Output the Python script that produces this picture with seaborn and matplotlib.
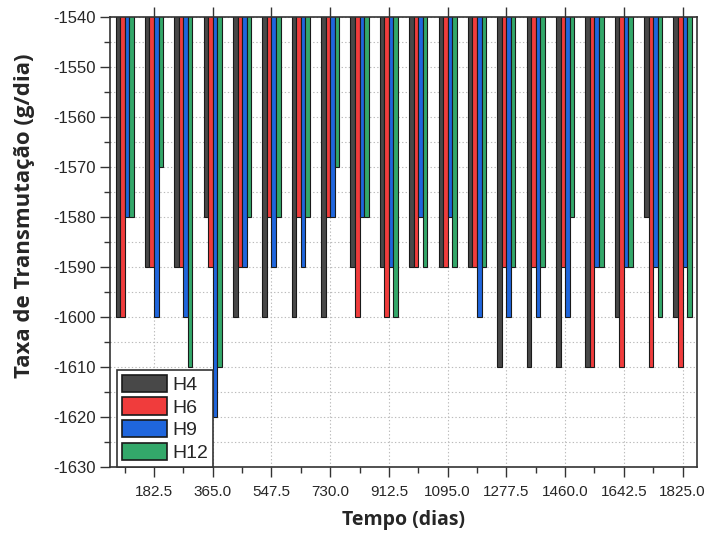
import pandas as pd
import seaborn as sns
import matplotlib
matplotlib.use("Agg")
import matplotlib.pyplot as plt
from matplotlib.ticker import MultipleLocator

# Tempo (dias) - one group every 91.25 days
dias = ["91.25", "182.5", "273.75", "365.0", "456.25", "547.5", "638.75", "730.0",
        "821.25", "912.5", "1003.75", "1095.0", "1186.25", "1277.5", "1368.75",
        "1460.0", "1551.25", "1642.5", "1733.75", "1825.0"]

# Taxa de transmutacao (g/dia) per series
h4 = [-1600, -1590, -1590, -1580, -1600, -1600, -1600, -1600, -1590, -1590,
      -1590, -1590, -1590, -1610, -1610, -1610, -1610, -1600, -1580, -1600]
h6 = [-1600, -1590, -1590, -1590, -1590, -1580, -1580, -1580, -1600, -1600,
      -1590, -1590, -1590, -1590, -1590, -1590, -1610, -1610, -1610, -1610]
h9 = [-1580, -1600, -1600, -1620, -1590, -1590, -1590, -1580, -1580, -1590,
      -1580, -1580, -1600, -1600, -1600, -1600, -1590, -1590, -1590, -1590]
h12 = [-1580, -1570, -1610, -1610, -1580, -1580, -1580, -1570, -1580, -1600,
       -1590, -1590, -1590, -1590, -1590, -1580, -1590, -1590, -1600, -1600]

series = ["H4", "H6", "H9", "H12"]
cores = ["#484848", "#f03c3c", "#1f66dd", "#33a86a"]

tick_labels = ["182.5", "365.0", "547.5", "730.0", "912.5", "1095.0",
               "1277.5", "1460.0", "1642.5", "1825.0"]


def main():
    rows = []
    for nome, vals in zip(series, [h4, h6, h9, h12]):
        for d, v in zip(dias, vals):
            rows.append({"dia": d, "serie": nome, "taxa": v})
    df = pd.DataFrame(rows)

    sns.set_style("ticks")
    plt.rcParams["font.family"] = ["Liberation Sans", "DejaVu Sans"]
    plt.rcParams["axes.unicode_minus"] = False

    fig = plt.figure(figsize=(7.05, 5.34), dpi=100)
    ax = fig.add_axes([0.156, 0.1255, 0.833, 0.8425])

    sns.barplot(data=df, x="dia", y="taxa", hue="serie", order=dias,
                hue_order=series, palette=cores, saturation=1, width=0.62,
                edgecolor="#1a1a1a", linewidth=0.8, errorbar=None, ax=ax)

    ax.set_ylim(-1630, -1540)
    ax.set_xlim(-0.5, len(dias) - 0.5)
    ax.yaxis.set_major_locator(MultipleLocator(10))
    ax.yaxis.set_minor_locator(MultipleLocator(5))
    ax.set_xticks(range(1, len(dias), 2))
    ax.set_xticklabels(tick_labels)
    ax.set_xticks(range(0, len(dias), 2), minor=True)

    ax.set_axisbelow(True)
    ax.yaxis.grid(True, which="both", linestyle=(0, (1.2, 2)), color="#bbbbbb", linewidth=0.8)
    ax.xaxis.grid(True, which="major", linestyle=(0, (1.2, 2)), color="#bbbbbb", linewidth=0.8)

    ax.tick_params(axis="both", which="major", direction="out", length=7, width=1,
                   color="#333333")
    ax.tick_params(axis="both", which="minor", direction="out", length=4, width=1,
                   color="#333333")
    ax.tick_params(axis="x", which="major", top=True, pad=6, labelsize=11)
    ax.tick_params(axis="y", which="major", pad=3, labelsize=12)
    for s in ax.spines.values():
        s.set_color("#333333")
        s.set_linewidth(1.2)

    ax.set_xlabel("Tempo (dias)", fontsize=14, fontweight="bold",
                  family=["Open Sans", "DejaVu Sans"], labelpad=8)
    ax.set_ylabel("Taxa de Transmutação (g/dia)", fontsize=16, fontweight="bold",
                  family=["Open Sans", "DejaVu Sans"])
    ax.yaxis.set_label_coords(-0.128, 0.558)

    leg = ax.legend(loc="lower left", bbox_to_anchor=(0.012, 0.0), borderaxespad=0,
                    fontsize=14, handlelength=2.3, handleheight=1.0,
                    labelspacing=0.17, handletextpad=0.3, borderpad=0.25,
                    fancybox=False, framealpha=1, edgecolor="#333333")
    leg.get_frame().set_linewidth(1.2)
    for h in leg.legend_handles:
        h.set_edgecolor("#1a1a1a")
        h.set_linewidth(1.2)

    fig.savefig("out.png", dpi=100)


if __name__ == "__main__":
    main()
